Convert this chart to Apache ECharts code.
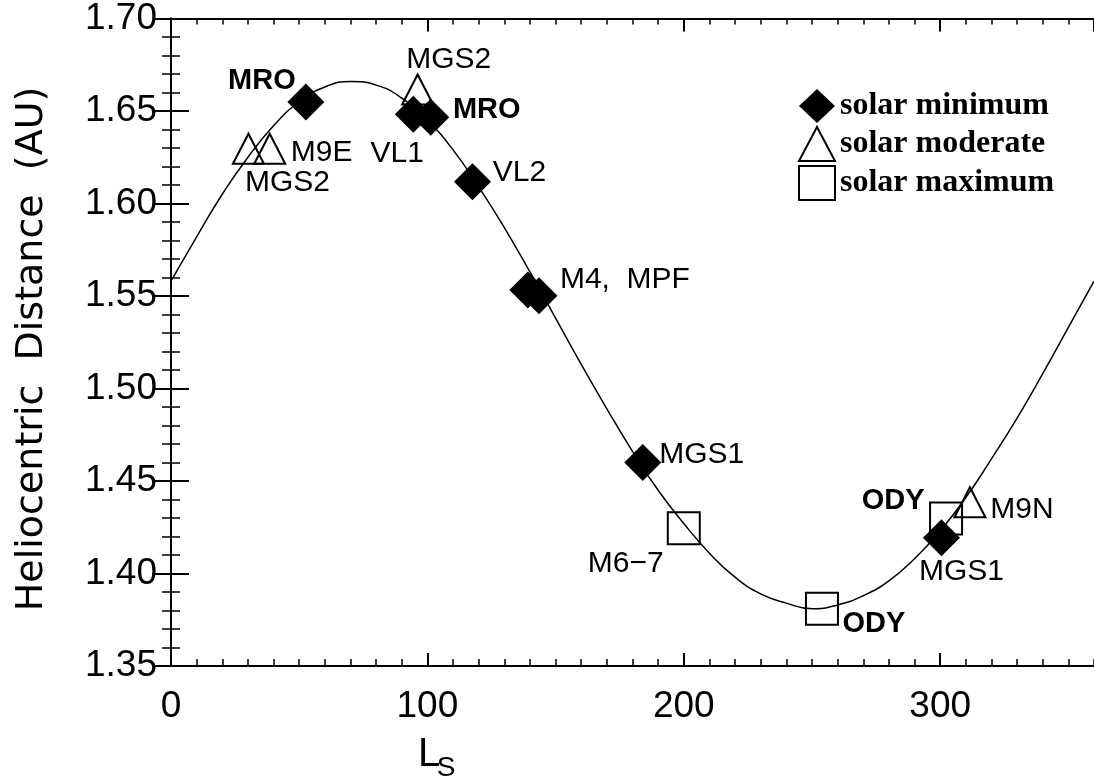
<!DOCTYPE html>
<html>
<head>
<meta charset="utf-8">
<script src="https://cdn.jsdelivr.net/npm/echarts@6/dist/echarts.min.js"></script>
<style>html,body{margin:0;padding:0;background:#fff}#c{width:1094px;height:780px}</style>
</head>
<body>
<div id="c"></div>
<script>
// ---- data ----
const curveLs   = [0,10,20,30,40,50,60,70,80,90,100,110,120,130,140,150,160,170,180,190,200,210,220,230,240,250,260,270,280,290,300,310,320,330,340,350,360];
const curveDist = [1.558,1.582,1.605,1.625,1.642,1.655,1.663,1.666,1.664,1.657,1.645,1.629,1.609,1.587,1.563,1.538,1.513,1.489,1.466,1.445,1.427,1.411,1.398,1.389,1.384,1.381,1.383,1.388,1.396,1.408,1.423,1.441,1.462,1.484,1.508,1.533,1.558];

const minLs     = [52.6, 94.5, 101.3, 117.6, 139.2, 143.5, 184.0, 300.5];
const minDist   = [1.6548, 1.6482, 1.6466, 1.6118, 1.5533, 1.5501, 1.4600, 1.4193];
const minLabels = ['MRO', 'VL1', 'MRO', 'VL2', 'M4,  MPF', '', 'MGS1', 'MGS1'];

const modLs     = [30.2, 38.5, 96.2, 311.6];
const modDist   = [1.6296, 1.6296, 1.6616, 1.4385];
const modLabels = ['MGS2', 'M9E', 'MGS2', 'M9N'];

const maxLs     = [200.0, 253.9, 302.3];
const maxDist   = [1.4244, 1.3809, 1.4297];
const maxLabels = ['M6\u22127', 'ODY', 'ODY'];

const seriesNames = ['solar minimum', 'solar moderate', 'solar maximum'];
const xTickStep = 100, xMinorStep = 10, yTickStep = 0.05, yMinorStep = 0.01;

// ---- label placement (pixel offsets from marker centre, bold flag) ----
const minLabelLayout = [[-44,-21,true],[-16,39,false],[56,-7,true],[47,-9,false],[97,-10,false],[0,0,false],[59,-8,false],[20,34,false]];
const modLabelLayout = [[39,34,false],[52,4,false],[31,-30,false],[52,7,false]];
const maxLabelLayout = [[-58,35,false],[52,15,true],[-53,-18,true]];

function build(ls, dist, labels, layout){
  return ls.map((x,i)=>({
    value:[x, dist[i]],
    label:{
      show: labels[i] !== '',
      formatter: labels[i],
      position:'inside',
      offset:[layout[i][0], layout[i][1]],
      fontWeight: layout[i][2] ? 'bold' : 'normal',
      fontSize: layout[i][2] ? 29 : 30,
      fontFamily:'Liberation Sans',
      color:'#000',
      opacity:1
    }
  }));
}

const chart = echarts.init(document.getElementById('c'), null, {renderer:'canvas'});
const axisLine = {show:true, lineStyle:{color:'#000', width:2}};
const xCommon = {type:'value', min:0, max:360, splitLine:{show:false}};
const yCommon = {type:'value', min:1.35, max:1.70, splitLine:{show:false}};

chart.setOption({
  animation:false,
  backgroundColor:'#fff',
  textStyle:{fontFamily:'Liberation Sans', color:'#000'},
  grid:{left:171, top:10, width:929, height:656, containLabel:false},
  xAxis:[
    Object.assign({}, xCommon, {position:'bottom', interval:xTickStep, axisLine,
      axisTick:{inside:true, length:13, lineStyle:{color:'#000', width:2}},
      axisLabel:{fontSize:37, margin:22, color:'#000', showMaxLabel:false}}),
    Object.assign({}, xCommon, {position:'bottom', interval:xMinorStep, axisLine:{show:false},
      axisTick:{inside:true, length:7, lineStyle:{color:'#000', width:1.5}},
      axisLabel:{show:false}}),
    Object.assign({}, xCommon, {position:'top', interval:xTickStep, axisLine,
      axisTick:{inside:true, length:13, lineStyle:{color:'#000', width:2}},
      axisLabel:{show:false}}),
    Object.assign({}, xCommon, {position:'top', interval:xMinorStep, axisLine:{show:false},
      axisTick:{inside:true, length:6, lineStyle:{color:'#000', width:1.5}},
      axisLabel:{show:false}})
  ],
  yAxis:[
    Object.assign({}, yCommon, {position:'left', interval:yTickStep, axisLine,
      axisTick:{inside:true, length:18, lineStyle:{color:'#000', width:2}},
      axisLabel:{fontSize:37, margin:14, color:'#000', formatter:v=>v.toFixed(2)}}),
    Object.assign({}, yCommon, {position:'left', interval:yMinorStep, axisLine:{show:false},
      axisTick:{inside:true, length:9, lineStyle:{color:'#000', width:1.5}},
      axisLabel:{show:false}}),
    Object.assign({}, yCommon, {position:'right', interval:yTickStep, axisLine,
      axisTick:{inside:true, length:18, lineStyle:{color:'#000', width:2}},
      axisLabel:{show:false}}),
    Object.assign({}, yCommon, {position:'right', interval:yMinorStep, axisLine:{show:false},
      axisTick:{inside:true, length:9, lineStyle:{color:'#000', width:1.5}},
      axisLabel:{show:false}})
  ],
  legend:{
    data:seriesNames, orient:'vertical', left:793, top:84,
    itemWidth:36, itemHeight:34, itemGap:3,
    textStyle:{fontFamily:'Liberation Serif', fontWeight:'bold', fontSize:32, color:'#000'},
    selectedMode:false
  },
  series:[
    {type:'line', name:'orbit', data:curveLs.map((x,i)=>[x, curveDist[i]]), smooth:true, symbol:'none',
     lineStyle:{color:'#000', width:1.5}, z:1, silent:true},
    {type:'scatter', name:seriesNames[0], symbol:'diamond', symbolSize:37,
     itemStyle:{color:'#000', opacity:1}, data:build(minLs, minDist, minLabels, minLabelLayout), z:2},
    {type:'scatter', name:seriesNames[1], symbol:'triangle', symbolSize:[31,30],
     itemStyle:{color:'rgba(255,255,255,0)', borderColor:'#000', borderWidth:2, opacity:1},
     data:build(modLs, modDist, modLabels, modLabelLayout), z:3},
    {type:'scatter', name:seriesNames[2], symbol:'rect', symbolSize:32,
     itemStyle:{color:'rgba(255,255,255,0)', borderColor:'#000', borderWidth:2, opacity:1},
     data:build(maxLs, maxDist, maxLabels, maxLabelLayout), z:4}
  ],
  graphic:[
    {type:'text', x:32, y:349, rotation:Math.PI/2,
     style:{text:'Heliocentric  Distance  (AU)', fontSize:38, fontFamily:'DejaVu Sans', fill:'#000', align:'center', verticalAlign:'middle'}},
    {type:'text', x:429, y:755,
     style:{text:'L', fontSize:40, fontFamily:'Liberation Sans', fill:'#000', align:'center', verticalAlign:'middle'}},
    {type:'text', x:446, y:768,
     style:{text:'S', fontSize:28, fontFamily:'Liberation Sans', fill:'#000', align:'center', verticalAlign:'middle'}}
  ]
});
</script>
</body>
</html>
